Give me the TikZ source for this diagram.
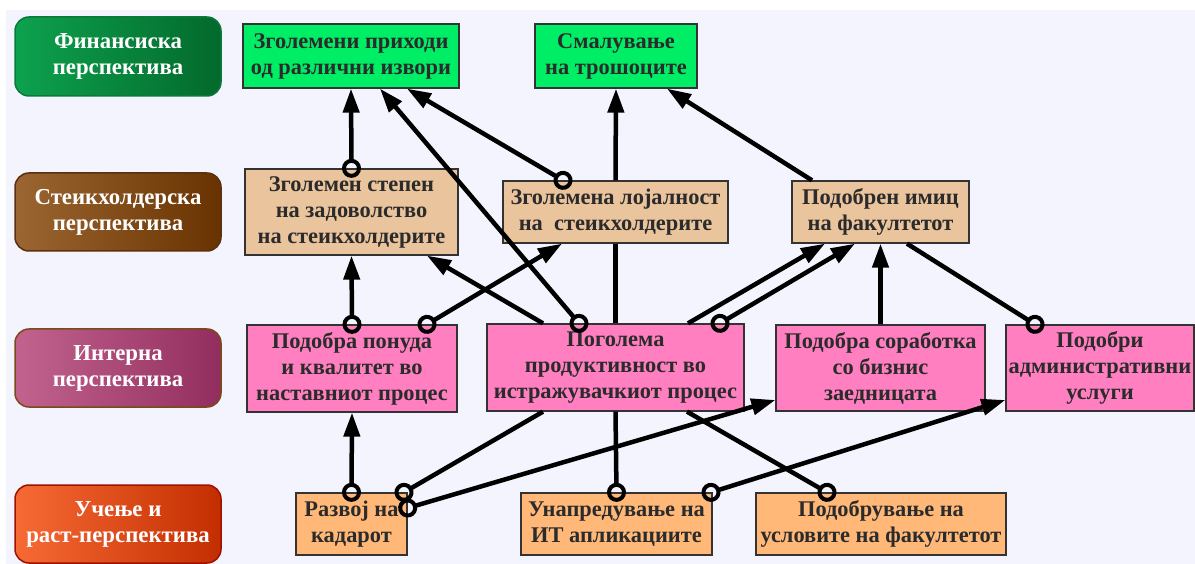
\documentclass[tikz,border=0pt]{standalone}
\usepackage{fontspec}
\setmainfont{Liberation Serif}
\usetikzlibrary{arrows.meta}
\definecolor{bgc}{HTML}{F3F4FD}
\definecolor{txt}{HTML}{2B2B2B}
\definecolor{edgec}{HTML}{333333}
\definecolor{fgreen}{HTML}{00EE66}
\definecolor{ftan}{HTML}{EAC49C}
\definecolor{fpink}{HTML}{FF7FC0}
\definecolor{forange}{HTML}{FFB878}
\definecolor{gA1}{HTML}{0DA24E}\definecolor{gA2}{HTML}{03692C}\definecolor{bA}{HTML}{0A7A3A}
\definecolor{gB1}{HTML}{9C6632}\definecolor{gB2}{HTML}{683300}\definecolor{bB}{HTML}{5A3010}
\definecolor{gC1}{HTML}{C2638F}\definecolor{gC2}{HTML}{922E5E}\definecolor{bC}{HTML}{7A4A1A}
\definecolor{gD1}{HTML}{F76A35}\definecolor{gD2}{HTML}{C32E00}\definecolor{bD}{HTML}{A01000}
\tikzset{
  cTail/.tip={Circle[open,length=19pt,line width=4pt]},
  aHead/.tip={Triangle[length=24pt,width=16pt]},
  goalbox/.style={draw=edgec, line width=1.3pt, inner sep=0pt, align=center,
    font=\bfseries\fontsize{22.4}{26}\selectfont, text=txt},
  persp/.style={rounded corners=14pt, line width=1.5pt, inner sep=0pt, align=center,
    text=white, font=\bfseries\fontsize{22.8}{26}\selectfont,
    minimum width=206pt, minimum height=78pt},
  conn/.style={line width=4.5pt, black},
  ct/.style={shorten <=-9.5pt},
  ce/.style={shorten >=-9.5pt}
}
\begin{document}
\begin{tikzpicture}[x=1pt,y=-1pt]
\useasboundingbox (0,0) rectangle (1195,564);
\fill[white] (0,0) rectangle (1195,564);
\fill[bgc] (6,10) rectangle (1195,564);

% perspectives
\node[persp, draw=bA, left color=gA1, right color=gA2, minimum height=79pt] (pF) at (118,56.5) {Финансиска\\перспектива};
\node[persp, draw=bB, left color=gB1, right color=gB2] (pS) at (118,212) {Стеикхолдерска\\перспектива};
\node[persp, draw=bC, left color=gC1, right color=gC2] (pI) at (118,368) {Интерна\\перспектива};
\node[persp, draw=bD, left color=gD1, right color=gD2] (pL) at (118,524) {Учење и\\раст-перспектива};

% financial
\node[goalbox, fill=fgreen, minimum width=216pt, minimum height=64pt] (A1) at (351,56) {Зголемени приходи\\од различни извори};
\node[goalbox, fill=fgreen, minimum width=162pt, minimum height=64pt] (A2) at (616,56) {Смалување\\на трошоците};
% stakeholder
\node[goalbox, fill=ftan, minimum width=213pt, minimum height=86pt] (B1) at (351.5,212) {Зголемен степен\\на задоволство\\на стеикхолдерите};
\node[goalbox, fill=ftan, minimum width=225pt, minimum height=62pt] (B2) at (615.5,212) {Зголемена лојалност\\на \ стеикхолдерите};
\node[goalbox, fill=ftan, minimum width=177pt, minimum height=62pt] (B3) at (880.5,212) {Подобрен имиц\\на факултетот};
% internal
\node[goalbox, fill=fpink, minimum width=210pt, minimum height=87pt] (C1) at (352,368.5) {Подобра понуда\\и квалитет во\\наставниот процес};
\node[goalbox, fill=fpink, minimum width=257pt, minimum height=87pt] (C2) at (615.5,367.5) {Поголема\\продуктивност во\\истражувачкиот процес};
\node[goalbox, fill=fpink, minimum width=209pt, minimum height=86pt] (C3) at (880.5,368) {Подобра соработка\\со бизнис\\заедницата};
\node[goalbox, fill=fpink, minimum width=188pt, minimum height=86pt] (C4) at (1100,368) {Подобри\\административни\\услуги};
% learning
\node[goalbox, fill=forange, minimum width=111pt, minimum height=62pt] (D1) at (351.5,524) {Развој на\\кадарот};
\node[goalbox, fill=forange, minimum width=191pt, minimum height=62pt] (D2) at (616.5,524) {Унапредување на\\ИТ апликациите};
\node[goalbox, fill=forange, minimum width=250pt, minimum height=62pt] (D3) at (881,524) {Подобрување на\\условите на факултетот};

% connectors
\draw[conn, cTail-aHead, ct] (B1.north) -- (A1.south);
\draw[conn, cTail-aHead, ct] ([xshift=-52.5pt]B2.north) -- ([xshift=56pt]A1.south);
\draw[conn, cTail-aHead, ct] ([xshift=-36.5pt]C2.north) -- ([xshift=29pt]A1.south);
\draw[conn] (C2.north) -- (B2.south);
\draw[conn, -aHead] (B2.north) -- (A2.south);
\draw[conn, -aHead] ([xshift=-68.5pt]B3.north) -- ([xshift=51pt]A2.south);
\draw[conn, cTail-aHead, ct] (C1.north) -- (B1.south);
\draw[conn, cTail-aHead, ct] ([xshift=75pt]C1.north) -- ([xshift=-53.5pt]B2.south);
\draw[conn, -aHead] ([xshift=-72.5pt]C2.north) -- ([xshift=75.5pt]B1.south);
\draw[conn, -aHead] ([xshift=72.5pt]C2.north) -- ([xshift=-55.5pt]B3.south);
\draw[conn, cTail-aHead, ct] ([xshift=104.5pt]C2.north) -- ([xshift=-25.5pt]B3.south);
\draw[conn, -aHead] (C3.north) -- (B3.south);
\draw[conn, -cTail, ce] ([xshift=26.5pt]B3.south) -- ([xshift=-65pt]C4.north);
\draw[conn, cTail-aHead, ct] (D1.north) -- (C1.south);
\draw[conn, cTail-, ct] ([xshift=52.5pt]D1.north) -- ([xshift=-72.5pt]C2.south);
\draw[conn, cTail-aHead, ct] ([yshift=16pt]D1.east) -- ([yshift=-32pt]C3.west);
\draw[conn, cTail-, ct] (D2.north) -- (C2.south);
\draw[conn, cTail-aHead, ct] ([xshift=94.5pt]D2.north) -- ([yshift=-32pt]C4.west);
\draw[conn, cTail-, ct] ([xshift=-54pt]D3.north) -- ([xshift=71.5pt]C2.south);
\end{tikzpicture}
\end{document}
